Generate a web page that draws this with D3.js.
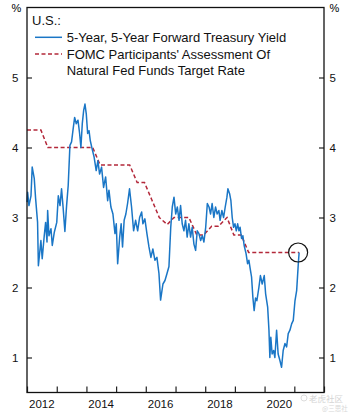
<!DOCTYPE html>
<html>
<head>
<meta charset="utf-8">
<script src="https://cdn.jsdelivr.net/npm/d3@7"></script>
<style>
  body { margin: 0; background: #fff; }
  svg { display: block; font-family: "Liberation Sans", Arial, sans-serif; }
</style>
</head>
<body>
<div id="chart"></div>
<script>
// 5-year, 5-year forward treasury yield
const yieldDates = ["2012-01-02","2012-01-09","2012-01-25","2012-02-19","2012-03-05","2012-03-30","2012-04-16","2012-05-10","2012-05-20","2012-06-20",
  "2012-07-06","2012-07-31","2012-08-17","2012-09-03","2012-09-11","2012-09-27","2012-10-22","2012-11-07","2012-12-02","2013-01-01",
  "2013-01-20","2013-02-10","2013-03-01","2013-03-21","2013-04-11","2013-05-02","2013-05-22","2013-06-12","2013-07-02","2013-07-22",
  "2013-08-09","2013-08-29","2013-09-19","2013-10-09","2013-10-25","2013-11-11","2013-11-28","2013-12-14","2013-12-30","2014-01-16",
  "2014-02-02","2014-02-17","2014-03-12","2014-04-06","2014-05-01","2014-05-22","2014-06-12","2014-07-06","2014-07-31","2014-08-25",
  "2014-09-19","2014-10-05","2014-10-29","2014-11-23","2014-12-18","2015-01-03","2015-01-20","2015-02-14","2015-03-04","2015-03-21",
  "2015-04-10","2015-05-01","2015-05-22","2015-06-15","2015-07-10","2015-08-04","2015-08-29","2015-09-23","2015-10-17","2015-11-11",
  "2015-11-27","2015-12-21","2016-01-15","2016-02-09","2016-03-04","2016-03-28","2016-04-22","2016-05-17","2016-06-11","2016-07-01",
  "2016-07-30","2016-08-24","2016-09-18","2016-10-12","2016-11-03","2016-11-22","2016-12-13","2017-01-03","2017-01-23","2017-02-13",
  "2017-03-04","2017-03-24","2017-04-14","2017-05-04","2017-05-24","2017-06-14","2017-07-05","2017-07-25","2017-08-15","2017-09-05",
  "2017-09-25","2017-10-16","2017-11-06","2017-11-26","2017-12-16","2018-01-07","2018-01-27","2018-02-17","2018-03-08","2018-03-27",
  "2018-04-17","2018-05-08","2018-05-28","2018-06-18","2018-07-03","2018-07-25","2018-08-15","2018-09-04","2018-09-25","2018-10-07",
  "2018-10-28","2018-11-13","2018-11-29","2018-12-16","2019-01-02","2019-01-18","2019-02-04","2019-02-20","2019-03-06","2019-03-24",
  "2019-04-09","2019-04-25","2019-05-19","2019-06-06","2019-06-22","2019-07-08","2019-07-25","2019-08-10","2019-08-26","2019-09-12",
  "2019-09-28","2019-10-23","2019-11-11","2019-12-03","2019-12-28","2020-01-14","2020-02-08","2020-02-24","2020-03-06","2020-03-18",
  "2020-04-03","2020-04-21","2020-05-07","2020-05-28","2020-06-16","2020-07-07","2020-07-28","2020-08-17","2020-09-08","2020-09-28",
  "2020-10-18","2020-11-08","2020-11-29","2020-12-19","2021-01-09","2021-01-30","2021-02-19","2021-03-01"]
const yieldValues = [3.22,3.36,3.17,3.31,3.72,3.56,3.27,2.93,2.31,2.67,
  2.41,2.74,2.93,2.65,3.10,2.74,2.84,2.60,2.79,2.93,
  3.31,3.17,3.41,3.13,2.80,3.17,3.46,4.03,4.08,4.27,
  4.43,4.34,4.39,4.20,4.00,4.34,4.53,4.62,4.48,4.20,
  4.24,4.10,3.98,3.86,3.67,3.81,3.62,3.72,3.43,3.58,
  3.24,3.39,3.15,3.05,2.77,2.91,2.34,2.72,2.91,2.58,
  2.96,3.05,3.20,3.41,3.15,2.81,2.96,2.81,3.00,3.08,
  2.91,2.98,2.77,2.58,2.43,2.55,2.39,2.43,2.20,1.82,
  2.05,2.10,2.20,2.30,2.86,3.15,3.29,3.05,3.15,2.96,
  3.17,2.91,2.81,2.96,2.72,2.91,2.72,2.86,2.62,2.53,
  2.81,2.77,2.67,2.74,2.65,2.86,3.20,3.15,3.05,3.20,
  3.00,3.15,3.05,3.10,2.96,3.10,3.00,3.15,3.29,3.41,
  3.34,3.24,3.00,2.86,2.91,2.81,2.91,2.81,2.86,2.70,
  2.74,2.60,2.48,2.34,2.39,2.27,2.15,1.86,1.67,1.85,
  1.81,2.00,2.17,2.05,2.17,1.91,1.72,1.39,1.00,1.29,
  1.05,1.10,1.00,1.39,1.05,0.96,0.86,1.10,1.20,1.15,
  1.34,1.39,1.48,1.53,1.81,1.96,2.34,2.50]

// FOMC longer-run median
const fomcDates = ["2012-01-01","2012-06-20","2012-09-13","2014-03-19","2014-06-18","2015-06-17","2015-09-17","2015-12-16","2016-03-16","2016-06-15",
  "2016-09-21","2016-12-14","2017-06-14","2017-09-20","2017-12-13","2018-03-21","2018-06-13","2018-09-26","2018-12-19","2019-03-20",
  "2019-06-19","2021-03-01"]
const fomcValues = [4.25,4.25,4.0,4.0,3.75,3.75,3.5,3.5,3.25,3.0,
  2.9,3.0,3.0,2.75,2.75,2.875,2.875,3.0,2.75,2.75,
  2.5,2.5]

const yTicks = [1, 2, 3, 4, 5]
const yearLabels = [2012, 2014, 2016, 2018, 2020]
const legendLabels = ["5-Year, 5-Year Forward Treasury Yield", "FOMC Participants' Assessment Of", "Natural Fed Funds Target Rate"]

const width = 350
const height = 420
const margin = {top: 7.5, right: 26, bottom: 27.5, left: 27}
const blue = "#1a76c6"
const red = "#b3283a"

const parse = d3.timeParse("%Y-%m-%d")
const yieldData = d3.zip(yieldDates.map(parse), yieldValues)
const fomcData = d3.zip(fomcDates.map(parse), fomcValues)

const svg = d3.select("#chart").append("svg")
  .attr("width", width)
  .attr("height", height)

const x = d3.scaleTime()
  .domain([new Date(2012, 0, 1), new Date(2022, 0, 1)])
  .range([margin.left, width - margin.right])

const y = d3.scaleLinear()
  .domain([0.5, 6])
  .range([height - margin.bottom, margin.top])

// axes, ticks pointing inward
svg.append("g")
  .attr("transform", "translate(0," + (height - margin.bottom) + ")")
  .call(d3.axisBottom(x).ticks(d3.timeYear.every(1)).tickSizeInner(-6).tickSizeOuter(0).tickFormat(""))
  .call(g => g.select(".domain").remove())

svg.append("g")
  .attr("transform", "translate(" + margin.left + ",0)")
  .call(d3.axisLeft(y).tickValues(yTicks).tickFormat(d3.format("d")).tickSizeInner(-5).tickSizeOuter(0).tickPadding(8.5))
  .call(g => g.select(".domain").remove())

svg.append("g")
  .attr("transform", "translate(" + (width - margin.right) + ",0)")
  .call(d3.axisRight(y).tickValues(yTicks).tickFormat(d3.format("d")).tickSizeInner(-5).tickSizeOuter(0).tickPadding(5.5))
  .call(g => g.select(".domain").remove())

svg.selectAll(".tick line").attr("stroke", "#222").attr("stroke-width", 1.2)
svg.selectAll(".tick text").attr("font-size", 11.5).attr("fill", "#111").attr("font-family", "Liberation Sans, Arial, sans-serif")

svg.append("g")
  .selectAll("text")
  .data(yearLabels)
  .enter()
  .append("text")
    .attr("x", d => x(new Date(d, 6, 1)))
    .attr("y", height - margin.bottom + 15)
    .attr("text-anchor", "middle")
    .attr("font-size", 11.5)
    .attr("fill", "#111")
    .text(d => d)

svg.append("text").attr("x", 16.3).attr("y", 11.5).attr("text-anchor", "middle").attr("font-size", 11).text("%")
svg.append("text").attr("x", width - 15.5).attr("y", 11.5).attr("text-anchor", "middle").attr("font-size", 11).text("%")

// series
svg.append("path")
  .datum(fomcData)
  .attr("fill", "none")
  .attr("stroke", red)
  .attr("stroke-width", 1.5)
  .attr("stroke-dasharray", "4,2.5")
  .attr("d", d3.line().x(d => x(d[0])).y(d => y(d[1])))

svg.append("path")
  .datum(yieldData)
  .attr("fill", "none")
  .attr("stroke", blue)
  .attr("stroke-width", 1.5)
  .attr("stroke-linejoin", "round")
  .attr("d", d3.line().x(d => x(d[0])).y(d => y(d[1])))

const last = yieldData[yieldData.length - 1]
svg.append("circle")
  .attr("cx", x(last[0]) - 1)
  .attr("cy", y(last[1]))
  .attr("r", 9.5)
  .attr("fill", "none")
  .attr("stroke", "#111")
  .attr("stroke-width", 1.2)

// frame
svg.append("rect")
  .attr("x", margin.left)
  .attr("y", margin.top)
  .attr("width", width - margin.left - margin.right)
  .attr("height", height - margin.top - margin.bottom)
  .attr("fill", "none")
  .attr("stroke", "#111")
  .attr("stroke-width", 1.3)

// legend
const legend = svg.append("g").attr("font-size", 13).attr("fill", "#111")
legend.append("text").attr("x", 32).attr("y", 25).text("U.S.:")
legend.append("line").attr("x1", 35).attr("x2", 62).attr("y1", 37.3).attr("y2", 37.3)
  .attr("stroke", blue).attr("stroke-width", 1.5)
legend.append("line").attr("x1", 35).attr("x2", 62).attr("y1", 54).attr("y2", 54)
  .attr("stroke", red).attr("stroke-width", 1.5).attr("stroke-dasharray", "4,2.5")
legend.selectAll(".lab")
  .data(legendLabels)
  .enter()
  .append("text")
    .attr("class", "lab")
    .attr("x", 66.7)
    .attr("y", (d, i) => [41.8, 58.5, 75.3][i])
    .text(d => d)

// faint watermark
svg.append("text").attr("x", 309).attr("y", 401.5).attr("font-size", 8.5).attr("fill", "#d4d4d4")
  .attr("font-family", "Noto Sans CJK SC").text("老虎社区")
svg.append("circle").attr("cx", 304).attr("cy", 398).attr("r", 3).attr("fill", "none").attr("stroke", "#dcdcdc")
svg.append("text").attr("x", 322).attr("y", 411).attr("font-size", 6.5).attr("fill", "#d8d8d8")
  .attr("font-family", "Noto Sans CJK SC").text("@三思社")
</script>
</body>
</html>
